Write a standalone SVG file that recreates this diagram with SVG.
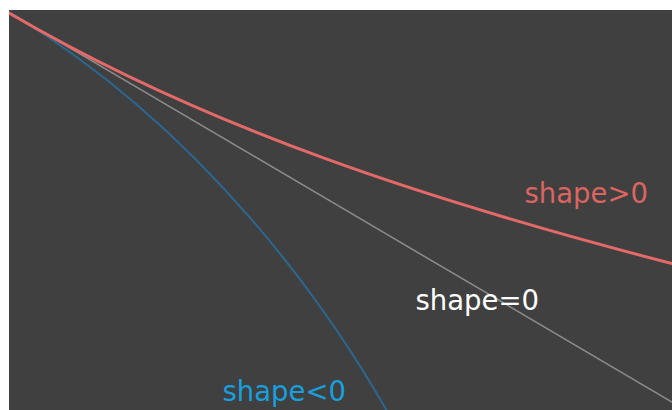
<svg xmlns="http://www.w3.org/2000/svg" width="672" height="410" viewBox="0 0 672 410">
<style>
.lbl{font-family:"DejaVu Sans",Verdana,sans-serif;font-size:27.5px}
.c{fill:none;stroke-linecap:round}
</style>
<defs>
<clipPath id="plot"><rect x="9" y="10" width="663" height="400"/></clipPath>
</defs>
<rect width="672" height="410" fill="#ffffff"/>
<rect id="plot-bg" x="9" y="10" width="663" height="400" fill="#404040"/>
<g id="curves" clip-path="url(#plot)">
<path id="shape-zero" class="c" d="M2,8 L672,402" stroke="#8c8c8c" stroke-width="1.5"/>
<path id="shape-neg" class="c" d="M9,12 C209,132 332,314.75 387,411 L392,420" stroke="#2b6790" stroke-width="2"/>
<path id="shape-pos" class="c" d="M2,9 L9,13 C209,129.6 432,201.4 672,263.6 L680,266" stroke="#e36a68" stroke-width="3"/>
</g>
<g id="labels">
<text class="lbl" x="524.5" y="203" fill="#dc6561">shape&gt;0</text>
<text class="lbl" x="415.5" y="309.5" fill="#ffffff">shape=0</text>
<text class="lbl" x="222.5" y="400.5" fill="#179fde">shape&lt;0</text>
</g>
</svg>
